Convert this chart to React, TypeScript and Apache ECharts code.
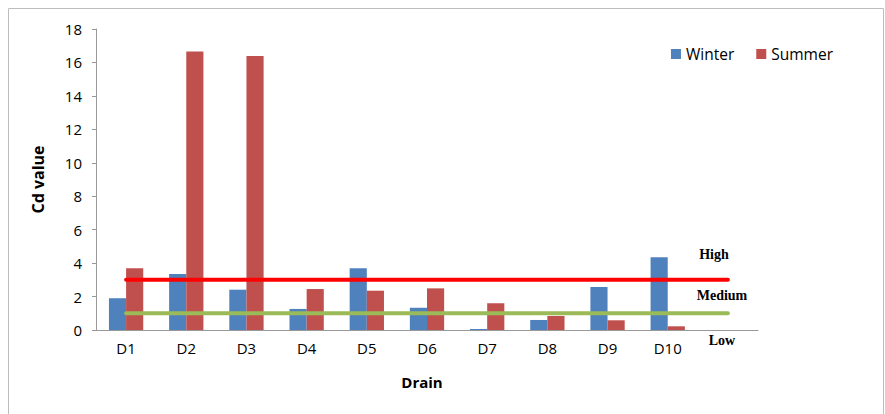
import React, { useEffect, useRef } from "react";
import * as echarts from "echarts";

// Drain sites; the trailing blank slot gives room for the class labels
const drains = ["D1", "D2", "D3", "D4", "D5", "D6", "D7", "D8", "D9", "D10", ""];
const winter = [1.9, 3.35, 2.41, 1.26, 3.69, 1.33, 0.06, 0.6, 2.57, 4.35];
const summer = [3.7, 16.65, 16.39, 2.45, 2.35, 2.49, 1.6, 0.84, 0.58, 0.22];
// Contamination class thresholds
const highLimit = drains.map(() => 3);
const mediumLimit = drains.map(() => 1);
const yTicks = { min: 0, max: 18, interval: 2 };

const FONT = "'Open Sans', Lato, sans-serif";
const SERIF = "'Liberation Serif', 'DejaVu Serif', serif";

export default function App() {
  const ref = useRef<HTMLDivElement>(null);

  useEffect(() => {
    if (!ref.current) return;
    const chart = echarts.init(ref.current, null, { renderer: "svg" });
    chart.setOption({
      animation: false,
      backgroundColor: "#ffffff",
      grid: { left: 96, top: 29, right: 127, bottom: 84, containLabel: false },
      legend: {
        right: 47,
        top: 41,
        itemWidth: 10,
        itemHeight: 10,
        itemGap: 22,
        icon: "rect",
        textStyle: { fontFamily: FONT, fontSize: 15.5, color: "#000" },
        data: ["Winter", "Summer"],
      },
      xAxis: {
        type: "category",
        data: drains,
        name: "Drain",
        nameLocation: "middle",
        nameGap: 44,
        nameTextStyle: {
          fontFamily: FONT,
          fontSize: 15,
          fontWeight: "bold",
          color: "#000",
          padding: [0, 0, 0, -10],
        },
        axisLine: { lineStyle: { color: "#999", width: 1 } },
        axisTick: { show: false },
        axisLabel: { fontFamily: FONT, fontSize: 15, color: "#000", margin: 10 },
      },
      yAxis: {
        type: "value",
        min: yTicks.min,
        max: yTicks.max,
        interval: yTicks.interval,
        name: "Cd value",
        nameLocation: "middle",
        nameGap: 50,
        nameRotate: 90,
        nameTextStyle: { fontFamily: FONT, fontSize: 16, fontWeight: "bold", color: "#000" },
        axisLine: { show: true, lineStyle: { color: "#999", width: 1 } },
        axisTick: { show: true, length: 4, lineStyle: { color: "#999" } },
        axisLabel: { fontFamily: FONT, fontSize: 15, color: "#000", margin: 14 },
        splitLine: { show: false },
      },
      series: [
        {
          name: "Winter",
          type: "bar",
          data: winter,
          barGap: "0%",
          barCategoryGap: "43%",
          itemStyle: { color: "#4F81BD" },
        },
        {
          name: "Summer",
          type: "bar",
          data: summer,
          itemStyle: { color: "#C0504D" },
        },
        {
          name: "High",
          type: "line",
          data: highLimit,
          symbol: "none",
          lineStyle: { color: "#FF0000", width: 4, cap: "round" },
          z: 5,
        },
        {
          name: "Medium",
          type: "line",
          data: mediumLimit,
          symbol: "none",
          lineStyle: { color: "#9BBB59", width: 4, cap: "round" },
          z: 5,
        },
      ],
      graphic: [
        {
          type: "rect",
          shape: { x: 8.5, y: 8.5, width: 875, height: 420 },
          style: { fill: "none", stroke: "#bdbdbd", lineWidth: 1 },
          silent: true,
        },
        {
          type: "text",
          x: 714,
          y: 254,
          style: { text: "High", font: `bold 14px ${SERIF}`, fill: "#000", align: "center", verticalAlign: "middle" },
        },
        {
          type: "text",
          x: 722,
          y: 295,
          style: { text: "Medium", font: `bold 14px ${SERIF}`, fill: "#000", align: "center", verticalAlign: "middle" },
        },
        {
          type: "text",
          x: 722,
          y: 340,
          style: { text: "Low", font: `bold 14px ${SERIF}`, fill: "#000", align: "center", verticalAlign: "middle" },
        },
      ],
    });
    return () => chart.dispose();
  }, []);

  return (
    <div
      ref={ref}
      style={{ position: "fixed", left: 0, top: 0, width: 885, height: 414 }}
    />
  );
}
